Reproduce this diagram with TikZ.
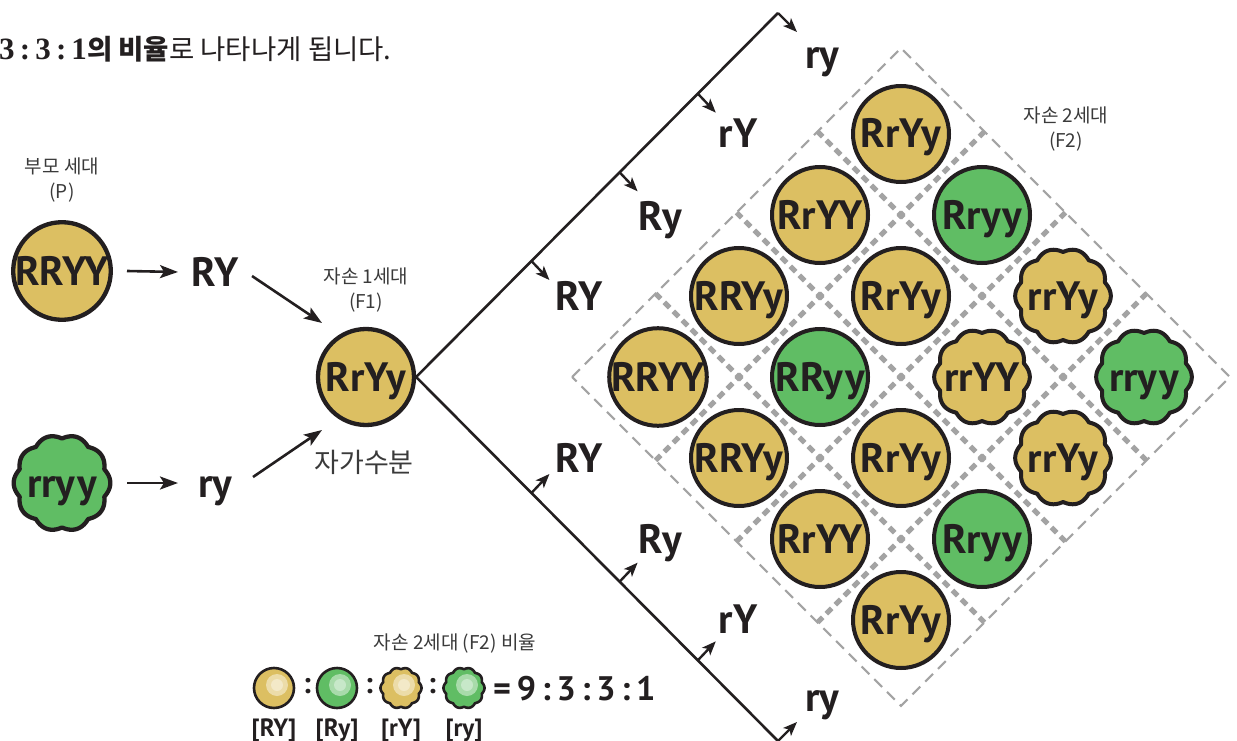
\documentclass[tikz,border=0pt]{standalone}
\usepackage{fontspec}
\setmainfont{Noto Sans CJK KR}
\newfontfamily\numserif{Liberation Serif}
\newfontfamily\labfont{PT Sans}
\usetikzlibrary{arrows.meta,calc}
\definecolor{ink}{HTML}{231F20}
\definecolor{gold}{HTML}{DCBF62}
\definecolor{leaf}{HTML}{60BD64}
\definecolor{gridgray}{HTML}{A3A3A3}
\definecolor{txtgray}{HTML}{3A3A3A}
% wavy (wrinkled pea) outline: x, y, radius, amplitude, fill colour, line width
\newcommand\wavyoutline[6]{%
  \filldraw[draw=ink, fill=#5, line width=#6, line join=round]
    plot[domain=0:360, samples=301, variable=\t]
    ({#1+(#3+#4*abs(cos(5*\t)))*cos(\t)}, {#2+(#3+#4*abs(cos(5*\t)))*sin(\t)}) -- cycle;}
\tikzset{
  biglab/.style={font=\labfont\fontsize{41}{41}\selectfont\bfseries, text=ink, inner sep=0pt, text height=28pt, text depth=0pt},
  pea/.style={biglab, circle, draw=ink, line width=4.3pt, fill=#1, minimum size=96pt},
  wavynode/.style={biglab, circle, minimum size=96pt},
  smalllab/.style={font=\fontsize{19}{25}\selectfont, text=txtgray, align=center, inner sep=0pt},
  arr/.style={-{Stealth[length=18pt,width=13pt,inset=4pt]}, line width=2.6pt, draw=ink},
  smallarr/.style={-{Stealth[length=14pt,width=11pt,inset=3.5pt]}, line width=2.4pt, draw=ink},
  branch/.style={line width=2.6pt, draw=ink, line join=miter},
  gridthick/.style={draw=gridgray, line width=5pt, dash pattern=on 7.5pt off 5.23pt, dash phase=0.32pt},
  gridthin/.style={draw=gridgray, line width=2.2pt, dash pattern=on 11pt off 7pt},
  leg/.style={circle, draw=ink, line width=2.6pt, fill=#1, minimum size=40pt, inner sep=0pt},
  legw/.style={circle, minimum size=40pt, inner sep=0pt},
  legtxt/.style={font=\labfont\fontsize{25}{25}\selectfont\bfseries, text=ink, inner sep=0pt, text height=17pt, text depth=0pt},
  colon/.style={font=\labfont\fontsize{30}{30}\selectfont\bfseries, text=ink, inner sep=0pt},
}
\begin{document}
\begin{tikzpicture}[x=1pt, y=-1pt]
\useasboundingbox (0,0) rectangle (1237,741);

% ---------- top sentence ----------
\node[anchor=base west, inner sep=0pt, text=ink, font=\fontsize{27.5}{27.5}\selectfont] (sentence) at (-1,60)
  {{\numserif\bfseries\fontsize{31}{31}\selectfont 3\,:\,3\,:\,1}{\bfseries 의 비율}로 나타나게 됩니다.};

% ---------- parents ----------
\node[smalllab] (Plab) at (62,180) {부모 세대\\(P)};
\node[pea=gold] (P1) at (62,271) {RRYY};
\wavyoutline{62}{483}{44.5}{3.8}{leaf}{4.3pt}
\node[wavynode] (P2) at (62,483) {rryy};

\node[biglab] (RY1) at (215,272) {RY};
\node[biglab] (ry1) at (215,483) {ry};

\draw[arr] ($(P1)+(65,0)$) -- ($(RY1)+(-37,0)$);
\draw[arr] ($(P2)+(65,0)$) -- ($(ry1)+(-37,0)$);

% ---------- F1 ----------
\node[smalllab] (F1lab) at (366,290.5) {자손 1세대\\(F1)};
\node[pea=gold] (F1) at (366,377) {RrYy};
\node[font=\fontsize{27}{27}\selectfont, text=txtgray, inner sep=0pt] (selfing) at (364,462) {자가수분};

\draw[arr] ($(RY1)+(37,4)$) -- ($(F1)+(-44,-54)$);
\draw[arr] ($(ry1)+(38,-6)$) -- ($(F1)+(-44,53)$);

% ---------- gamete branches ----------
\coordinate (topA) at (778,13);
\coordinate (botA) at (778,741);
\draw[branch] (F1.east) -- (topA);
\draw[branch] (F1.east) -- (botA);
\path (F1.east) -- (topA) coordinate[pos=0.3186] (u1) coordinate[pos=0.5623] (u2) coordinate[pos=0.7784] (u3);
\path (F1.east) -- (botA) coordinate[pos=0.3186] (d1) coordinate[pos=0.5623] (d2) coordinate[pos=0.7784] (d3);

\node[biglab] (RYu) at (579,296) {RY};
\node[biglab] (Ryu) at (660,216) {Ry};
\node[biglab] (rYu) at (738,134) {rY};
\node[biglab] (ryu) at (822,55) {ry};
\node[biglab] (RYd) at (579,458) {RY};
\node[biglab] (Ryd) at (660,539) {Ry};
\node[biglab] (rYd) at (738,619) {rY};
\node[biglab] (ryd) at (822,697) {ry};

\draw[smallarr] (u1) -- ++(18,19);
\draw[smallarr] (u2) -- ++(18,19);
\draw[smallarr] (u3) -- ++(18,19);
\draw[smallarr] (topA) -- ++(19,19);
\draw[smallarr] (d1) -- ++(18,-19);
\draw[smallarr] (d2) -- ++(18,-19);
\draw[smallarr] (d3) -- ++(18,-19);
\draw[smallarr] (botA) -- ++(19,-19);

% ---------- F2 grid ----------
\draw[gridthin] ({658+81*(-0.53-0.53)},377) -- ({658+81*(3.53-0.53)},{377+81*(-0.53-3.53)})
  -- ({658+81*(3.53+3.53)},377) -- ({658+81*(-0.53+3.53)},{377+81*(3.53+0.53)}) -- cycle;
\foreach \k in {0.5,1.5,2.5}{
  \draw[gridthick] ({658+81*(\k-0.53)},{377+81*(-0.53-\k)}) -- ({658+81*(\k+3.53)},{377+81*(3.53-\k)});
  \draw[gridthick] ({658+81*(-0.53+\k)},{377+81*(\k+0.53)}) -- ({658+81*(3.53+\k)},{377+81*(\k-3.53)});
}
\node[smalllab] (F2lab) at (1066,129.5) {자손 2세대\\(F2)};

\foreach \i/\j/\g/\c/\w [count=\n] in {
  0/0/RRYY/gold/0, 1/0/RRYy/gold/0, 2/0/RrYY/gold/0, 3/0/RrYy/gold/0,
  0/1/RRYy/gold/0, 1/1/RRyy/leaf/0, 2/1/RrYy/gold/0, 3/1/Rryy/leaf/0,
  0/2/RrYY/gold/0, 1/2/RrYy/gold/0, 2/2/rrYY/gold/1, 3/2/rrYy/gold/1,
  0/3/RrYy/gold/0, 1/3/Rryy/leaf/0, 2/3/rrYy/gold/1, 3/3/rryy/leaf/1}{
  \pgfmathsetmacro\cx{658+81*(\i+\j)}
  \pgfmathsetmacro\cy{377+81*(\j-\i)}
  \ifnum\w=1
    \wavyoutline{\cx}{\cy}{44}{3.8}{\c}{4pt}
    \node[wavynode] (f\n) at (\cx,\cy) {\g};
  \else
    \node[pea=\c, line width=4pt] (f\n) at (\cx,\cy) {\g};
  \fi
}

% ---------- legend ----------
\node[smalllab, font=\fontsize{19}{19}\selectfont] (legtitle) at (455,644) {자손 2세대 (F2) 비율};
\node[leg=gold] (L1) at (274,688) {};
\fill[gold!55!white] ($(L1)+(3,-3)$) circle (11);
\fill[gold!35!white] ($(L1)+(3,-3)$) circle (6);
\node[leg=leaf] (L2) at (337,688) {};
\fill[leaf!55!white] ($(L2)+(3,-3)$) circle (11);
\fill[leaf!35!white] ($(L2)+(3,-3)$) circle (6);
\wavyoutline{401}{688}{18.7}{1.8}{gold}{2.6pt}
\node[legw] (L3) at (401,688) {};
\fill[gold!55!white] ($(L3)+(3,-3)$) circle (11);
\fill[gold!35!white] ($(L3)+(3,-3)$) circle (6);
\wavyoutline{464}{688}{18.7}{1.8}{leaf}{2.6pt}
\node[legw] (L4) at (464,688) {};
\fill[leaf!55!white] ($(L4)+(3,-3)$) circle (11);
\fill[leaf!35!white] ($(L4)+(3,-3)$) circle (6);
\node[colon] (c1) at (307,686) {:};
\node[colon] (c2) at (369,686) {:};
\node[colon] (c3) at (432,686) {:};
\node[anchor=west, font=\labfont\fontsize{34}{34}\selectfont\bfseries, text=ink, inner sep=0pt, text height=24pt, text depth=0pt] (ratio) at (493,688) {=\,9\,:\,3\,:\,3\,:\,1};
\node[legtxt] (t1) at (274,728) {[RY]};
\node[legtxt] (t2) at (337,728) {[Ry]};
\node[legtxt] (t3) at (401,728) {[rY]};
\node[legtxt] (t4) at (464,728) {[ry]};
\end{tikzpicture}
\end{document}
